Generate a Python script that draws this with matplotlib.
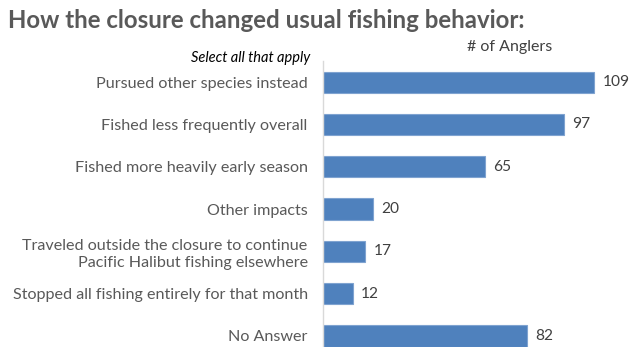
import matplotlib
matplotlib.use("Agg")
import matplotlib.pyplot as plt

categories = [
    "Pursued other species instead",
    "Fished less frequently overall",
    "Fished more heavily early season",
    "Other impacts",
    "Traveled outside the closure to continue\nPacific Halibut fishing elsewhere",
    "Stopped all fishing entirely for that month",
    "No Answer",
]
values = [109, 97, 65, 20, 17, 12, 82]

W, H = 629, 347
fig = plt.figure(figsize=(W / 100, H / 100), dpi=100)
plt.rcParams['font.family'] = ['Lato', 'DejaVu Sans']

px_per_unit = 2.486
x0 = 323
xmax = 120
spacing = 42.3
top = 61
n = len(categories)
ax = fig.add_axes([x0 / W, 1 - (top + n * spacing) / H, xmax * px_per_unit / W, n * spacing / H])

ypos = list(range(n))
ax.barh(ypos, values, height=0.5, color="#4F81BD", edgecolor="#7FA3D0", linewidth=0.8)
ax.set_ylim(n - 0.5, -0.5)
ax.set_xlim(0, xmax)
for s in ["top", "right", "bottom"]:
    ax.spines[s].set_visible(False)
ax.spines["left"].set_color("#D9D9D9")
ax.spines["left"].set_linewidth(1)
ax.set_xticks([])
ax.set_yticks(ypos)
ax.set_yticklabels(categories, fontsize=11.6, color="#595959", linespacing=1.3)
ax.tick_params(axis="y", length=0, pad=11)

for y, v in zip(ypos, values):
    ax.annotate(str(v), (v, y), xytext=(6, 0), textcoords="offset points",
                va="center", ha="left", fontsize=11.2, color="#404040",
                annotation_clip=False)

fig.text(8 / W, 1 - 20 / H, "How the closure changed usual fishing behavior:",
         fontsize=17.3, fontweight="bold", color="#595959", va="center", ha="left")
fig.text(310 / W, 1 - 58 / H, "Select all that apply", fontsize=10.5, style="italic",
         color="#000000", va="center", ha="right")
fig.text(510 / W, 1 - 47 / H, "# of Anglers", fontsize=11.5, color="#404040",
         va="center", ha="center")

fig.savefig("out.png", dpi=100)
